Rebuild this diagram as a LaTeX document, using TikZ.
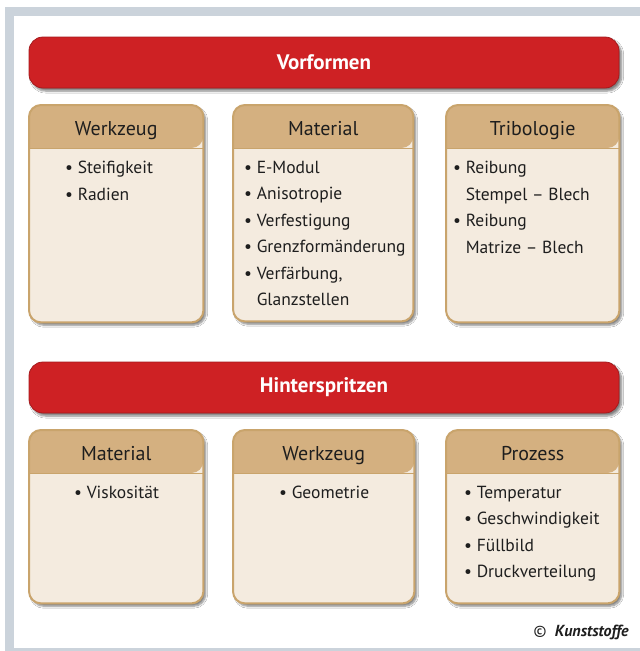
\documentclass[tikz,border=0pt]{standalone}
\usepackage{fontspec}
\setmainfont{PT Sans}
\usetikzlibrary{positioning, calc, shadows.blur}

\definecolor{rahmengrau}{HTML}{CBD3DB}
\definecolor{vfrot}{HTML}{CE2124}
\definecolor{kopfbraun}{HTML}{D4B080}
\definecolor{randbraun}{HTML}{C9A46C}
\definecolor{grundbeige}{HTML}{F4EBDF}
\definecolor{schrift}{HTML}{1E1E1E}

\tikzset{
  schatten/.style={blur shadow={shadow xshift=2.5pt, shadow yshift=-3pt, shadow blur steps=6, shadow opacity=50}},
  balken/.style={rounded corners=14pt, fill=vfrot, draw=vfrot!80!black, line width=0.8pt,
    minimum width=590pt, minimum height=51pt, text=white,
    font=\fontsize{21}{24}\selectfont\bfseries, schatten},
  kasten/.style={rounded corners=12pt, fill=grundbeige, inner sep=0pt, schatten},
  kopftext/.style={text=schrift, font=\fontsize{20}{24}\selectfont, inner sep=0pt, anchor=base},
  liste/.style={text=schrift, align=left, inner sep=0pt, font=\fontsize{17.5}{26.5}\selectfont},
}

% #1 name, #2/#3 linke obere Ecke, #4 Breite, #5 Hoehe, #6 Titel, #7 Einzug, #8 Punkte
\newcommand{\kasten}[8]{%
  \node[kasten, minimum width=#4pt, minimum height=#5pt, anchor=north west] (#1) at (#2,#3) {};
  \fill[kopfbraun] ([yshift=-43pt]#1.north west) [rounded corners=12pt] |- (#1.north)
    -| ([yshift=-43pt]#1.north east) [sharp corners] -- cycle;
  \draw[randbraun, line width=1pt] ([yshift=-43pt]#1.north west) -- ([yshift=-43pt]#1.north east);
  \draw[randbraun, line width=2pt, rounded corners=12pt] (#1.north west) rectangle (#1.south east);
  \node[kopftext] (#1-kopf) at ([yshift=-30pt]#1.north) {#6};
  \node[liste, anchor=north west] (#1-liste) at ([xshift=#7pt, yshift=-56pt]#1.north west) {#8};
}
\newcommand{\pkt}{\textbullet\ }
\newcommand{\weiter}{\hphantom{\textbullet\ }}

\begin{document}
\begin{tikzpicture}[x=1pt, y=-1pt]
\useasboundingbox (0,0) rectangle (640,651);
% Rahmen
\fill[rahmengrau] (5,7) rectangle (640,651);
\fill[white] (14,16) rectangle (640,648);

% Vorformen
\node[balken] (vorformen) at (324,62.5) {Vorformen};
\kasten{werkzeug1}{29}{105}{174}{217}{Werkzeug}{36}{\pkt Steifigkeit\\ \pkt Radien}
\kasten{material1}{233}{105}{180}{216}{Material}{11}{\pkt E-Modul\\ \pkt Anisotropie\\ \pkt Verfestigung\\
  \pkt Grenzformänderung\\ \pkt Verfärbung,\\ \weiter Glanzstellen}
\kasten{tribologie}{446}{105}{173}{217}{Tribologie}{7}{\pkt Reibung\\ \weiter Stempel – Blech\\
  \pkt Reibung\\ \weiter Matrize – Blech}

% Hinterspritzen
\node[balken] (hinterspritzen) at (324,387.5) {Hinterspritzen};
\kasten{material2}{29}{430}{174}{173}{Material}{45}{\pkt Viskosität}
\kasten{werkzeug2}{233}{430}{181}{173}{Werkzeug}{46}{\pkt Geometrie}
\kasten{prozess}{446}{430}{173}{173}{Prozess}{18}{\pkt Temperatur\\ \pkt Geschwindigkeit\\
  \pkt Füllbild\\ \pkt Druckverteilung}

\node[text=schrift, font=\fontsize{16}{18}\selectfont, anchor=base east, inner sep=0pt] (quelle)
  at (629,636) {©\ \ \textbf{\textit{Kunststoffe}}};
\end{tikzpicture}
\end{document}
